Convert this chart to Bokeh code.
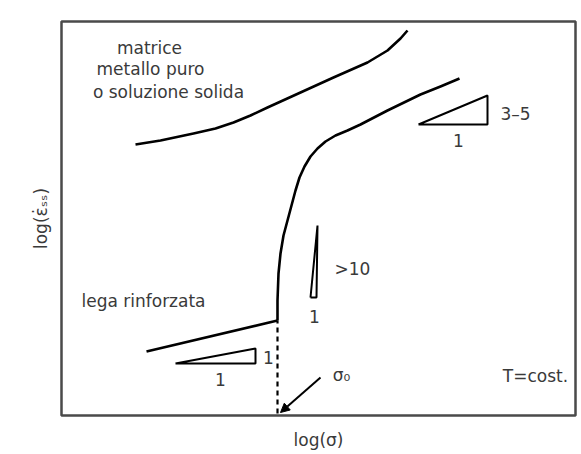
from bokeh.plotting import figure
from bokeh.models import Range1d, FixedTicker, Arrow, NormalHead, ColumnDataSource
from bokeh.core.properties import value
from bokeh.embed import file_html
from bokeh.resources import INLINE

# Schematic creep curves: log(strain rate) vs log(stress), arbitrary units
pure_x = [74, 99, 132, 154, 172, 189, 206, 239, 272, 306, 326, 339, 346]
pure_y = [271, 275, 282, 287, 293, 300, 308, 323, 338, 353, 365, 377, 385]

alloy_low_x = [85, 216]
alloy_low_y = [64, 95]

alloy_x = [216, 216, 217, 219, 222, 226, 230, 234, 238, 243, 249, 256, 264, 274, 286,
           299, 326, 359, 379, 398]
alloy_y = [95, 115, 142, 162, 180, 195, 210, 225, 238, 249, 259, 267, 274, 280, 285,
           291, 305, 321, 329, 337]

sigma0 = 216          # threshold stress
sigma0_base = 2

# slope triangles (x, y vertices)
tri_pure_x = [357, 426, 426, 357]
tri_pure_y = [291, 320, 291, 291]
tri_low_x = [114, 194, 194, 114]
tri_low_y = [52, 67, 52, 52]
tri_steep_x = [249, 256, 255, 249]
tri_steep_y = [118, 190, 118, 118]

label_text = ["matrice", "metallo puro", "o soluzione solida", "lega rinforzata",
              "3\u20135", "1", ">10", "1", "1", "1", "T=cost."]
label_x = [88, 89, 107, 82, 454, 397, 291, 253, 207, 159, 474]
label_y = [368, 347, 324, 115, 302, 275, 147, 99, 58, 36, 40]

arrow_start = (259, 38)
arrow_end = (219, 3)
sigma_label = "\u03c3\u2080"
sigma_label_pos = (280, 41)

FONT = "DejaVu Sans"
TEXT_COLOR = "#3a3a3a"

p = figure(width=581, height=454, output_backend="svg", toolbar_location=None,
           x_range=Range1d(0, 514), y_range=Range1d(0, 394),
           min_border_left=61, min_border_right=6, min_border_top=21, min_border_bottom=39)
p.background_fill_color = "white"
p.border_fill_color = "white"
p.outline_line_color = "#4a4a4a"
p.outline_line_width = 2.5
p.grid.visible = False

for ax in (p.xaxis, p.yaxis):
    ax.ticker = FixedTicker(ticks=[])
    ax.axis_line_color = None
    ax.major_tick_line_color = None
    ax.minor_tick_line_color = None
    ax.major_label_text_font_size = "0px"
    ax.axis_label_text_font = FONT
    ax.axis_label_text_font_size = "17px"
    ax.axis_label_text_font_style = "normal"
    ax.axis_label_text_color = TEXT_COLOR

p.xaxis.axis_label = "log(\u03c3)"
p.xaxis.axis_label_standoff = 14
p.yaxis.axis_label = "log(\u03b5\u0307\u209b\u209b)"
p.yaxis.axis_label_standoff = 11

lw = 2.6
p.line(pure_x, pure_y, line_color="black", line_width=lw, line_join="round")
p.line(alloy_low_x, alloy_low_y, line_color="black", line_width=lw)
p.line(alloy_x, alloy_y, line_color="black", line_width=lw, line_join="round")
p.line([sigma0, sigma0], [sigma0_base, alloy_low_y[-1]], line_color="black",
       line_width=2.2, line_dash="5 4")

for tx, ty in ((tri_pure_x, tri_pure_y), (tri_low_x, tri_low_y), (tri_steep_x, tri_steep_y)):
    p.line(tx, ty, line_color="black", line_width=2)

src = ColumnDataSource(dict(x=label_x, y=label_y, t=label_text))
p.text(x="x", y="y", text="t", source=src, text_font=value(FONT), text_font_size="17px",
       text_color=TEXT_COLOR, text_align="center", text_baseline="middle")

p.add_layout(Arrow(end=NormalHead(size=9, fill_color="black", line_color="black"),
                   x_start=arrow_start[0], y_start=arrow_start[1],
                   x_end=arrow_end[0], y_end=arrow_end[1],
                   line_color="black", line_width=2))
p.text(x=[sigma_label_pos[0]], y=[sigma_label_pos[1]], text=[sigma_label],
       text_font=value(FONT), text_font_size="17px", text_color=TEXT_COLOR,
       text_align="center", text_baseline="middle")

open("out.html", "w").write(file_html(p, INLINE))
